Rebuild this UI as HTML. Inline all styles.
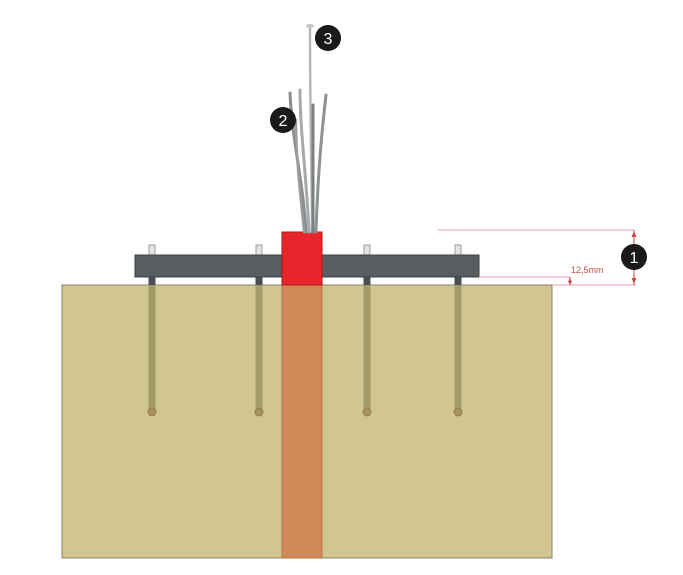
<!DOCTYPE html>
<html><head><meta charset="utf-8"><style>
html,body{margin:0;padding:0;background:#fff;}
svg{display:block;}
</style></head><body>
<svg width="683" height="575" viewBox="0 0 683 575" xmlns="http://www.w3.org/2000/svg">
<!-- block -->
<rect x="62" y="285" width="490" height="273" fill="#d1c690" stroke="#8a8260" stroke-width="1"/>
<!-- orange strip -->
<rect x="282" y="285" width="40" height="273" fill="#d08a58" stroke="#b87448" stroke-width="1"/>
<!-- rods -->
<g fill="#a49b6a">
<rect x="148.5" y="277" width="7" height="135"/>
<rect x="255.5" y="277" width="7" height="135"/>
<rect x="363.5" y="277" width="7" height="135"/>
<rect x="454.5" y="277" width="7" height="135"/>
</g>
<g fill="#a8915a" stroke="#8e7a48" stroke-width="0.8">
<circle cx="152" cy="412" r="4"/><circle cx="259" cy="412" r="4"/><circle cx="367" cy="412" r="4"/><circle cx="458" cy="412" r="4"/>
</g>
<g fill="#4a4e52">
<rect x="148.5" y="277" width="7" height="8"/><rect x="255.5" y="277" width="7" height="8"/><rect x="363.5" y="277" width="7" height="8"/><rect x="454.5" y="277" width="7" height="8"/>
</g>
<!-- pins above -->
<g fill="#e4e4e4" stroke="#888" stroke-width="0.8">
<rect x="149" y="245" width="6" height="10"/><rect x="256" y="245" width="6" height="10"/><rect x="364" y="245" width="6" height="10"/><rect x="455" y="245" width="6" height="10"/>
</g>
<!-- plate -->
<rect x="135" y="255" width="344" height="22" fill="#595d60" stroke="#3e4244" stroke-width="1"/>
<!-- red -->
<rect x="282" y="232" width="40" height="53" fill="#e8252a" stroke="#b01818" stroke-width="1"/>
<!-- wires -->
<g fill="none" stroke-linecap="round">
<path d="M306 232 C303 180 292 140 290 93" stroke="#8a8d8f" stroke-width="3"/>
<path d="M309 232 C306 170 300 130 300 90" stroke="#a6a9ab" stroke-width="3"/>
<path d="M316 232 C318 170 322 130 326 95" stroke="#8f9294" stroke-width="3"/>
<path d="M312 232 C312 170 310 130 310 28" stroke="#b5b8ba" stroke-width="2.5"/>
<path d="M313 232 C313 180 313 130 313 105" stroke="#7c8082" stroke-width="3"/>
<path d="M304 232 C300 190 296 160 296 120" stroke="#9a9d9f" stroke-width="2.5"/>
</g>
<ellipse cx="310" cy="26" rx="4" ry="2" fill="#c8c8c8"/>
<!-- dimension lines -->
<g stroke="#e0a0a0" stroke-width="1" fill="none">
<line x1="438" y1="230" x2="634" y2="230"/>
<line x1="479" y1="277" x2="570" y2="277"/>
<line x1="552" y1="285" x2="636" y2="285"/>
<line x1="634" y1="230" x2="634" y2="285" stroke="#c94a4a"/>
<line x1="570" y1="277" x2="570" y2="285" stroke="#c94a4a"/>
</g>
<g fill="#c94a4a">
<path d="M634 231 l-2.5 6 h5z"/><path d="M634 284 l-2.5 -6 h5z"/>
<path d="M570 278 l-2 4 h4z"/><path d="M570 285 l-2 -4 h4z"/>
</g>
<text x="571" y="273" font-family="Liberation Sans, sans-serif" font-size="9" fill="#c0504d">12,5mm</text>
<!-- numbered circles -->
<g font-family="Liberation Sans, sans-serif" font-size="16" fill="#fff" text-anchor="middle">
<circle cx="634" cy="257" r="13" fill="#1a1a1a"/><text x="634" y="263">1</text>
<circle cx="283" cy="120" r="13" fill="#1a1a1a"/><text x="283" y="126">2</text>
<circle cx="328" cy="38" r="13" fill="#1a1a1a"/><text x="328" y="44">3</text>
</g>
</svg>
</body></html>
